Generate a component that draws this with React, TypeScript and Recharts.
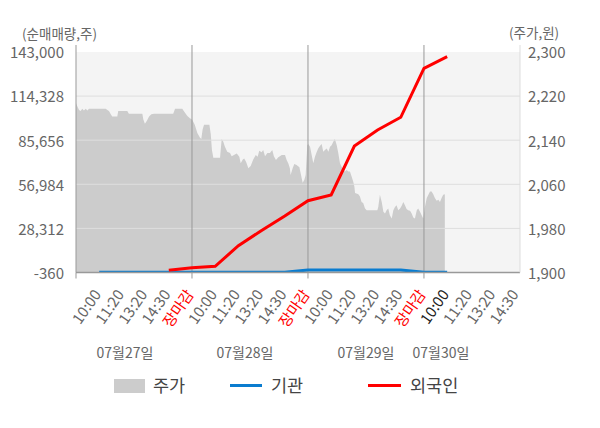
import React from 'react';
import { ComposedChart, Area, Line, XAxis, YAxis, CartesianGrid, ReferenceLine } from 'recharts';

// x positions are "time slots": each trading day spans 5 slots (10:00, 11:20, 13:20, 14:30, 장마감)
const xLabels = [
  '10:00', '11:20', '13:20', '14:30', '장마감',
  '10:00', '11:20', '13:20', '14:30', '장마감',
  '10:00', '11:20', '13:20', '14:30', '장마감',
  '10:00', '11:20', '13:20', '14:30',
];
const labelSlots = [1, 2, 3, 4, 5, 6, 7, 8, 9, 10, 11, 12, 13, 14, 15, 16, 17, 18, 19];
const currentSlot = 16;
const dayLabels = ['07월27일', '07월28일', '07월29일', '07월30일'];
const dayBoundarySlots = [0, 5, 10, 15];

const leftTicks = [-360, 28312, 56984, 85656, 114328, 143000];
const rightTicks = [1900, 1980, 2060, 2140, 2220, 2300];
const innerGridTicks = [28312, 56984, 85656, 114328];

// net buying (cumulative, shares) at reporting slots
const flowSlots = [1, 2, 3, 4, 5, 6, 7, 8, 9, 10, 11, 12, 13, 14, 15, 16];
const foreignValues = [null, null, null, 1070, 2760, 3670, 17060, 26950, 36370, 46320, 50030, 81880, 92290, 100550, 132400, 139940];
const institutionValues = [-230, -230, -230, -230, -230, -230, -230, -230, -230, 1270, 1270, 1270, 1270, 1270, -160, -230];

// price (원)
const priceSlots = [
  0.00, 0.06, 0.13, 0.20, 0.27, 0.34, 0.42, 0.49, 0.56, 1.28, 1.35, 1.42, 1.50, 1.56, 1.78, 1.82, 2.21, 2.28, 2.86, 2.90,
  2.97, 3.05, 3.15, 3.25, 3.36, 4.19, 4.27, 4.58, 4.66, 4.80, 4.91, 5.01, 5.12, 5.23, 5.34, 5.40, 5.46, 5.52, 5.75, 5.81,
  5.86, 5.92, 6.21, 6.28, 6.35, 6.42, 6.52, 6.64, 6.71, 6.85, 6.93, 7.04, 7.10, 7.19, 7.25, 7.33, 7.43, 7.53, 7.64, 7.75,
  7.83, 7.90, 8.00, 8.07, 8.15, 8.25, 8.36, 8.46, 8.53, 8.62, 8.72, 8.87, 9.01, 9.08, 9.15, 9.22, 9.25, 9.34, 9.41, 9.51,
  9.63, 9.70, 9.77, 9.84, 9.90, 9.97, 10.01, 10.09, 10.16, 10.23, 10.30, 10.38, 10.44, 10.52, 10.59, 10.66, 10.73, 10.81, 10.88, 10.95,
  11.02, 11.09, 11.16, 11.24, 11.31, 11.38, 11.45, 11.52, 11.59, 11.67, 11.74, 11.81, 11.88, 11.95, 12.00, 12.03, 12.17, 12.24, 12.31, 12.38,
  12.46, 12.53, 12.99, 13.03, 13.10, 13.18, 13.25, 13.32, 13.39, 13.46, 13.53, 13.61, 13.68, 13.75, 13.82, 13.89, 13.97, 14.04, 14.11, 14.18,
  14.25, 14.32, 14.40, 14.47, 14.54, 14.61, 14.69, 14.75, 14.83, 14.90, 14.97, 15.04, 15.12, 15.19, 15.26, 15.33, 15.40, 15.47, 15.55, 15.62,
  15.69, 15.76, 15.83, 15.90,
];
const priceValues = [
  2207, 2201, 2195, 2193, 2197, 2194, 2197, 2194, 2197, 2197, 2195, 2193, 2187, 2183, 2183, 2193, 2193, 2188, 2188, 2178,
  2170, 2175, 2183, 2187, 2188, 2188, 2197, 2197, 2192, 2184, 2180, 2177, 2168, 2153, 2145, 2142, 2160, 2168, 2168, 2151,
  2122, 2108, 2108, 2142, 2137, 2128, 2119, 2117, 2111, 2114, 2116, 2110, 2098, 2105, 2107, 2101, 2089, 2093, 2105, 2113,
  2110, 2121, 2118, 2122, 2111, 2117, 2117, 2122, 2111, 2104, 2109, 2113, 2113, 2104, 2098, 2089, 2077, 2089, 2097, 2095,
  2091, 2077, 2063, 2068, 2077, 2131, 2133, 2128, 2113, 2098, 2110, 2119, 2125, 2130, 2133, 2119, 2122, 2125, 2119, 2128,
  2131, 2137, 2142, 2131, 2116, 2098, 2092, 2087, 2083, 2086, 2083, 2083, 2074, 2065, 2056, 2044, 2042, 2038, 2028, 2026,
  2016, 2013, 2013, 2019, 2041, 2028, 2010, 2007, 2013, 2016, 2004, 1998, 2013, 2019, 2022, 2013, 2016, 2021, 2028, 2022,
  2015, 2013, 2012, 2007, 2000, 1998, 2013, 2016, 2010, 2004, 1998, 2019, 2035, 2041, 2047, 2047, 2042, 2035, 2030, 2032,
  2028, 2035, 2041, 2042,
];

type Row = { u: number; price?: number | null; foreign?: number | null; inst?: number | null };

function buildRows(): Row[] {
  const map = new Map<string, Row>();
  const get = (u: number) => {
    const k = u.toFixed(2);
    let r = map.get(k);
    if (!r) {
      r = { u, price: null, foreign: null, inst: null };
      map.set(k, r);
    }
    return r;
  };
  priceSlots.forEach((u, i) => { get(u).price = priceValues[i]; });
  flowSlots.forEach((u, i) => {
    const r = get(u);
    r.foreign = foreignValues[i];
    r.inst = institutionValues[i];
  });
  return Array.from(map.values()).sort((a, b) => a.u - b.u);
}

const rows = buildRows();

const FONT = '"Noto Sans CJK KR", "Noto Sans", sans-serif';
const AXIS_COLOR = '#666';
const BLUE = '#0a7ccf';
const RED = '#ff0000';

// plot top sits a little above the 143,000 / 2,300 ticks so that day lines poke above
const leftDomain = [-360, 147551];
const rightDomain = [1900, 2312.7];
const xDomain = [0, 19.14];

const XTick = (props: any) => {
  const { x, y, payload } = props;
  const v = payload.value as number;
  const idx = labelSlots.indexOf(v);
  const isBoundary = dayBoundarySlots.includes(v);
  let color = AXIS_COLOR;
  if (idx >= 0 && xLabels[idx] === '장마감') color = RED;
  if (v === currentSlot) color = '#222';
  return (
    <g>
      {isBoundary && <line x1={x} x2={x} y1={y} y2={y + 6} stroke="#999" strokeWidth={1} />}
      {idx >= 0 && (
        <text
          x={0}
          y={0}
          transform={`translate(${x + 2.5},${y + 22}) rotate(-55)`}
          textAnchor="end"
          fill={color}
          fontSize={15}
          fontFamily={FONT}
        >
          {xLabels[idx]}
        </text>
      )}
    </g>
  );
};

const fmt = (n: number) => n.toLocaleString('en-US');

const dayLabelCenters = [125, 245, 366, 441];

export default function App() {
  return (
    <div style={{ position: 'absolute', left: 0, top: 0, width: 600, height: 428, background: '#fff', fontFamily: FONT }}>
      <ComposedChart
        width={600}
        height={428}
        data={rows}
        margin={{ top: 45, right: 0, left: 0, bottom: 95.5 }}
      >
        <CartesianGrid
          yAxisId="left"
          vertical={false}
          stroke="none"
          horizontalFill={['#ffffff', '#f4f4f4', '#f4f4f4', '#f4f4f4', '#f4f4f4', '#f4f4f4', '#f4f4f4']}
        />
        <XAxis
          dataKey="u"
          type="number"
          domain={xDomain}
          ticks={[...dayBoundarySlots, ...labelSlots].sort((a, b) => a - b).filter((v, i, a) => a.indexOf(v) === i)}
          interval={0}
          tick={<XTick />}
          tickLine={false}
          tickSize={0}
          tickMargin={0}
          axisLine={{ stroke: '#999', strokeWidth: 1.5 }}
          height={60}
          allowDataOverflow
        />
        <YAxis
          yAxisId="left"
          orientation="left"
          domain={leftDomain}
          ticks={leftTicks}
          interval={0}
          tickFormatter={fmt}
          width={76}
          tickLine={false}
          tickMargin={6}
          axisLine={{ stroke: '#999' }}
          tick={{ fill: AXIS_COLOR, fontSize: 15, fontFamily: FONT, dy: 1 }}
          allowDataOverflow
        />
        <YAxis
          yAxisId="right"
          orientation="right"
          domain={rightDomain}
          ticks={rightTicks}
          interval={0}
          tickFormatter={fmt}
          width={80}
          tickLine={false}
          tickMargin={2}
          axisLine={{ stroke: '#dddddd' }}
          tick={{ fill: AXIS_COLOR, fontSize: 15, fontFamily: FONT, textAnchor: 'start', dy: 1 }}
          allowDataOverflow
        />
        <Area
          yAxisId="right"
          dataKey="price"
          type="linear"
          stroke="none"
          fill="#cccccc"
          fillOpacity={1}
          connectNulls
          isAnimationActive={false}
          dot={false}
          activeDot={false}
        />
        {innerGridTicks.map((t) => (
          <ReferenceLine key={t} yAxisId="left" y={t} stroke="#dedede" strokeWidth={1} />
        ))}
        {dayBoundarySlots.slice(1).map((s) => (
          <ReferenceLine key={s} yAxisId="left" x={s} stroke="#999" strokeWidth={1} />
        ))}
        <Line
          yAxisId="left"
          dataKey="inst"
          type="linear"
          stroke={BLUE}
          strokeWidth={3}
          dot={false}
          activeDot={false}
          connectNulls
          isAnimationActive={false}
        />
        <Line
          yAxisId="left"
          dataKey="foreign"
          type="linear"
          stroke={RED}
          strokeWidth={3}
          dot={false}
          activeDot={false}
          connectNulls
          isAnimationActive={false}
        />
      </ComposedChart>

      {/* axis unit captions */}
      <div style={{ position: 'absolute', left: 22, top: 26, fontSize: 13.5, lineHeight: '14px', color: AXIS_COLOR, whiteSpace: 'nowrap' }}>
        (순매매량,주)
      </div>
      <div style={{ position: 'absolute', left: 509, top: 25, fontSize: 13.5, lineHeight: '14px', color: AXIS_COLOR, whiteSpace: 'nowrap' }}>
        (주가,원)
      </div>

      {/* day captions */}
      {dayLabels.map((d, i) => (
        <div
          key={d}
          style={{
            position: 'absolute',
            left: dayLabelCenters[i] - 50,
            width: 100,
            top: 343,
            textAlign: 'center',
            fontSize: 14,
            lineHeight: '18px',
            color: AXIS_COLOR,
            whiteSpace: 'nowrap',
          }}
        >
          {d}
        </div>
      ))}

      {/* legend */}
      <div style={{ position: 'absolute', left: 114, top: 378.5, width: 31, height: 14, background: '#cccccc' }} />
      <div style={{ position: 'absolute', left: 153, top: 373, fontSize: 17.5, lineHeight: '24px', color: '#444' }}>주가</div>
      <div style={{ position: 'absolute', left: 230, top: 384, width: 32, height: 3, background: BLUE }} />
      <div style={{ position: 'absolute', left: 271, top: 373, fontSize: 17.5, lineHeight: '24px', color: '#444' }}>기관</div>
      <div style={{ position: 'absolute', left: 368, top: 384, width: 33, height: 3, background: RED }} />
      <div style={{ position: 'absolute', left: 410, top: 373, fontSize: 17.5, lineHeight: '24px', color: '#444' }}>외국인</div>
    </div>
  );
}
